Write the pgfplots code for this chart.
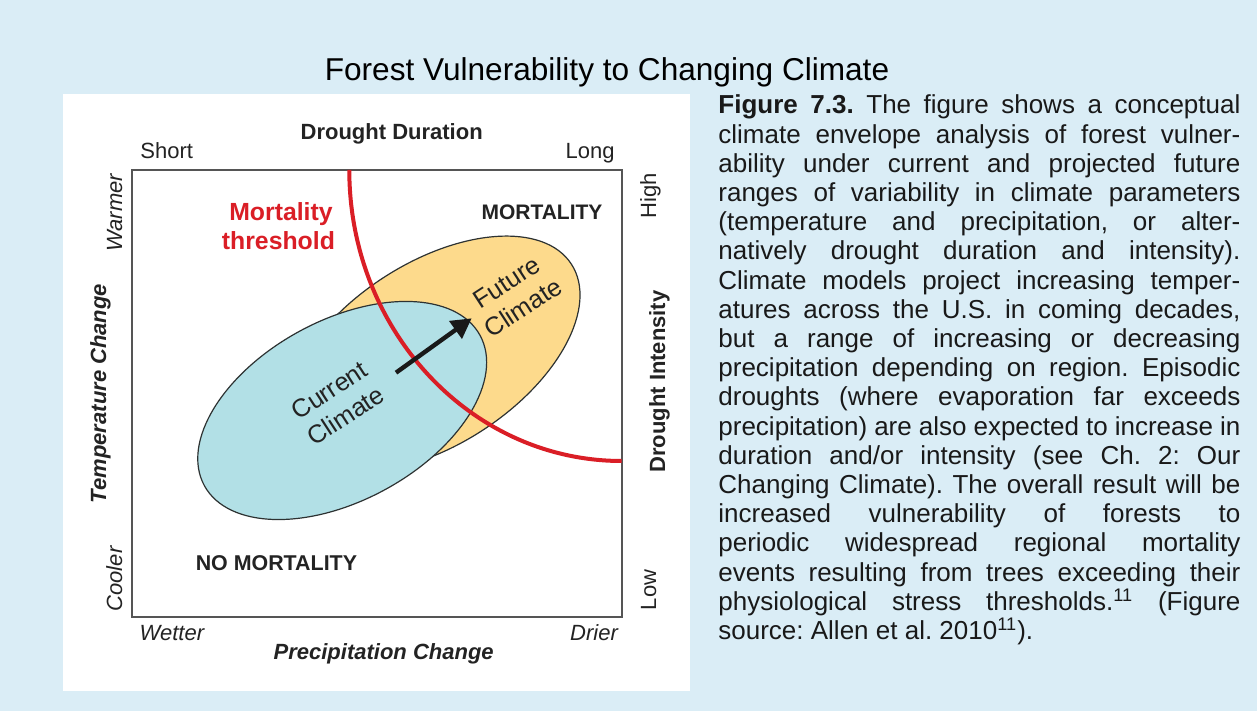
\documentclass[border=0pt]{standalone}
\usepackage{pgfplots}
\pgfplotsset{compat=1.18}
\usetikzlibrary{arrows.meta}
\usepackage{fontspec}
\setmainfont{Liberation Sans}
\definecolor{bgblue}{RGB}{218,237,246}
\definecolor{curfill}{RGB}{178,224,230}
\definecolor{futfill}{RGB}{253,218,140}
\definecolor{mred}{RGB}{218,30,38}
\definecolor{edge}{RGB}{45,50,50}
\definecolor{boxgray}{RGB}{85,85,85}
\definecolor{txt}{RGB}{35,35,35}
\newcommand\lab{\fontsize{11}{13}\selectfont}
\begin{document}
\begin{tikzpicture}[x=1pt,y=1pt]
\fill[bgblue] (0,0) rectangle (628.5,355.5);
\fill[white] (31.5,10) rectangle (345,308.5);
\begin{axis}[at={(65.85pt,47pt)}, anchor=south west, scale only axis,
  width=245pt, height=223.5pt, xmin=0, xmax=490, ymin=0, ymax=447,
  ticks=none, axis line style={draw=boxgray, line width=0.8pt}, clip=true]
\draw[draw=edge, line width=0.6pt, fill=futfill, rotate around={33:(axis cs:301.3,263)}]
  (axis cs:301.3,263) ellipse [x radius=82.5pt, y radius=45.5pt];
\draw[draw=edge, line width=0.6pt, fill=curfill, rotate around={28.6:(axis cs:210.5,206.5)}]
  (axis cs:210.5,206.5) ellipse [x radius=78.5pt, y radius=45pt];
\draw[mred, line width=2pt] (axis cs:217.6,447) arc[start angle=180, end angle=270, x radius=136.2pt, y radius=145.5pt];
\draw[black!90, line width=2.2pt, -{Triangle[length=10pt,width=10.5pt]}] (axis cs:264.3,244.3) -- (axis cs:340,298.7);
\end{axis}
\begin{scope}[every node/.style={inner sep=0pt}]
% title
\node[anchor=base, font=\fontsize{15.8}{18}\selectfont] at (303.5,315.25) {Forest Vulnerability to Changing Climate};
% axis texts
\node[anchor=base, font=\lab\bfseries, text=txt] at (195.85,285.85) {Drought Duration};
\node[anchor=base west, font=\lab, text=txt] at (70,276.35) {Short};
\node[anchor=base east, font=\lab, text=txt] at (307.5,276.35) {Long};
\node[anchor=base west, font=\lab\itshape, text=txt] at (69.65,35.15) {Wetter};
\node[anchor=base east, font=\lab\itshape, text=txt] at (309.15,35.15) {Drier};
\node[anchor=base, font=\lab\bfseries\itshape, text=txt] at (191.85,25.5) {Precipitation Change};
\node[anchor=base, rotate=90, font=\lab\itshape, text=txt] at (61,249) {Warmer};
\node[anchor=base, rotate=90, font=\lab\itshape, text=txt] at (61,66) {Cooler};
\node[anchor=base, rotate=90, font=\lab\bfseries\itshape, text=txt] at (53,158.75) {Temperature Change};
\node[anchor=base, rotate=90, font=\lab, text=txt] at (328,257.5) {High};
\node[anchor=base, rotate=90, font=\lab, text=txt] at (328,60.5) {Low};
\node[anchor=base, rotate=90, font=\lab\bfseries, text=txt] at (332.5,164.75) {Drought Intensity};
% region labels
\node[anchor=base, font=\fontsize{12.4}{14}\selectfont\bfseries, text=mred] at (140.5,245.15) {Mortality};
\node[anchor=base, font=\fontsize{12.4}{14}\selectfont\bfseries, text=mred] at (139.2,230.5) {threshold};
\node[anchor=base, font=\fontsize{10.5}{12}\selectfont\bfseries, text=txt] at (271,245.5) {MORTALITY};
\node[anchor=base, font=\fontsize{10.7}{12}\selectfont\bfseries, text=txt] at (138.2,70.25) {NO MORTALITY};
\node[rotate=33, align=center, font=\fontsize{12.7}{15}\selectfont, text=txt] at (168.8,154) {Current\\Climate};
\node[rotate=33, align=center, font=\fontsize{12.7}{15}\selectfont, text=txt] at (257.5,208) {Future\\Climate};
% caption
\node[anchor=base west, text=black!90] at (359,298.5) {\parbox[t]{261pt}{\fontsize{13}{14.6}\selectfont\frenchspacing
\spaceskip=0.25em plus 1em minus 0.1em
\hbox to\linewidth{\textbf{Figure 7.3.} The figure shows a conceptual}
\hbox to\linewidth{climate envelope analysis of forest vulner-}
\hbox to\linewidth{ability under current and projected future}
\hbox to\linewidth{ranges of variability in climate parameters}
\hbox to\linewidth{(temperature and precipitation, or alter-}
\hbox to\linewidth{natively drought duration and intensity).}
\hbox to\linewidth{Climate models project increasing temper-}
\hbox to\linewidth{atures across the U.S. in coming decades,}
\hbox to\linewidth{but a range of increasing or decreasing}
\hbox to\linewidth{precipitation depending on region. Episodic}
\hbox to\linewidth{droughts (where evaporation far exceeds}
\hbox to\linewidth{precipitation) are also expected to increase in}
\hbox to\linewidth{duration and/or intensity (see Ch. 2: Our}
\hbox to\linewidth{Changing Climate). The overall result will be}
\hbox to\linewidth{increased vulnerability of forests to}
\hbox to\linewidth{periodic widespread regional mortality}
\hbox to\linewidth{events resulting from trees exceeding their}
\hbox to\linewidth{physiological stress thresholds.\textsuperscript{11} (Figure}
\hbox{\spaceskip=0.278em source: Allen et al. 2010\textsuperscript{11}).}
}};
\end{scope}
\pgfresetboundingbox
\path (0,0) rectangle (628.5,355.5);
\end{tikzpicture}
\end{document}
